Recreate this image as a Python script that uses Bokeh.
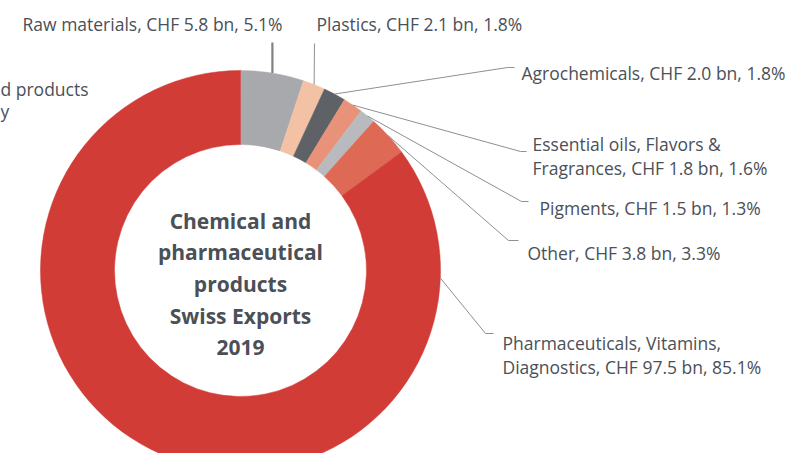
import math
from bokeh.plotting import figure
from bokeh.models import Range1d, ColumnDataSource
from bokeh.core.properties import value
from bokeh.embed import file_html
from bokeh.resources import INLINE

# ---- data ----
categories = ["Raw materials", "Plastics", "Agrochemicals",
              "Essential oils, Flavors & Fragrances", "Pigments", "Other",
              "Pharmaceuticals, Vitamins, Diagnostics"]
chf_bn = [5.8, 2.1, 2.0, 1.8, 1.5, 3.8, 97.5]
shares = [5.1, 1.8, 1.8, 1.6, 1.3, 3.3, 85.1]
colors = ["#a7a9ac", "#f3c2a5", "#5e6267", "#e9927a", "#b8babd", "#de6a55", "#d13c37"]
label_lines = [
    ["Raw materials, CHF 5.8 bn, 5.1%"],
    ["Plastics, CHF 2.1 bn, 1.8%"],
    ["Agrochemicals, CHF 2.0 bn, 1.8%"],
    ["Essential oils, Flavors &", "Fragrances, CHF 1.8 bn, 1.6%"],
    ["Pigments, CHF 1.5 bn, 1.3%"],
    ["Other, CHF 3.8 bn, 3.3%"],
    ["Pharmaceuticals, Vitamins,", "Diagnostics, CHF 97.5 bn, 85.1%"],
]
center_title = ["Chemical and", "pharmaceutical", "products", "Swiss Exports", "2019"]
cropped_left_label = ["d products", "y"]

# ---- layout (reference pixel coordinates, y downward) ----
PW, PH = 785, 453
CX, CY, R_OUT, R_IN = 240, 270, 200, 126
# (anchor fraction override or None, elbow point, end point, label x, first baseline y)
leaders = [
    (None, (None, 42), None, 22, 23),
    (None, (314, 43), None, 316, 23),
    (None, (507, 67), (514, 67), 521, 72),
    (None, (520, 151), (526, 151), 532, 143),
    (None, (521, 201), (528, 201), 539, 207),
    (None, (508, 240), (518, 240), 527, 252),
    (0.256, (485, 333), (493, 333), 502, 342),
]
LINE_GAP = 24.5
LABEL_FONT = "17.5px"

def Y(y):
    return PH - y

p = figure(width=PW, height=PH, output_backend="svg", toolbar_location=None,
           x_range=Range1d(0, PW), y_range=Range1d(0, PH),
           min_border=0, background_fill_color="white")
p.axis.visible = False
p.grid.visible = False
p.outline_line_color = None

# ---- donut ----
total = sum(shares)
starts, ends, mids = [], [], []
cum = 0.0
for s in shares:
    f0 = cum / total
    cum += s
    f1 = cum / total
    starts.append(math.pi / 2 - 2 * math.pi * f0)
    ends.append(math.pi / 2 - 2 * math.pi * f1)
    mids.append((f0 + f1) / 2)

src = ColumnDataSource(dict(x=[CX] * len(shares), y=[Y(CY)] * len(shares),
                            start=starts, end=ends, color=colors, cat=categories))
p.annular_wedge(x="x", y="y", inner_radius=R_IN, outer_radius=R_OUT,
                start_angle="start", end_angle="end", direction="clock",
                fill_color="color", line_color="color", line_width=0.5, source=src)

# ---- leaders and labels ----
label_color = "#4b5057"
for i, (anchor, elbow, end, lx, ly) in enumerate(leaders):
    f = anchor if anchor is not None else mids[i]
    ang = 2 * math.pi * f
    sx = CX + R_OUT * math.sin(ang)
    sy = CY - R_OUT * math.cos(ang)
    ex = elbow[0] if elbow[0] is not None else sx
    xs = [sx, ex]
    ys = [Y(sy), Y(elbow[1])]
    if end is not None:
        xs.append(end[0])
        ys.append(Y(end[1]))
    if i == 0:
        p.line(xs, ys, line_color="#7f8184", line_width=2.2)
    else:
        p.line(xs, ys, line_color="#8d8f92", line_width=1)
    for k, t in enumerate(label_lines[i]):
        p.text(x=[lx], y=[Y(ly + k * LINE_GAP)], text=[t], text_font=value("Open Sans"),
               text_font_size=LABEL_FONT, text_color=label_color,
               text_baseline="alphabetic", text_align="left")

# fragment of a label cropped at the left edge of the reference
p.text(x=[0, 0], y=[Y(88), Y(110)], text=cropped_left_label, text_font=value("Open Sans"),
       text_font_size=LABEL_FONT, text_color=label_color, text_baseline="alphabetic",
       text_align="left")

# ---- centre title ----
for k, t in enumerate(center_title):
    p.text(x=[CX], y=[Y(220 + k * 31.7)], text=[t], text_font=value("Open Sans"),
           text_font_style="bold", text_font_size="21px", text_color="#4b5057",
           text_baseline="alphabetic", text_align="center")

open("out.html", "w").write(file_html(p, INLINE))
